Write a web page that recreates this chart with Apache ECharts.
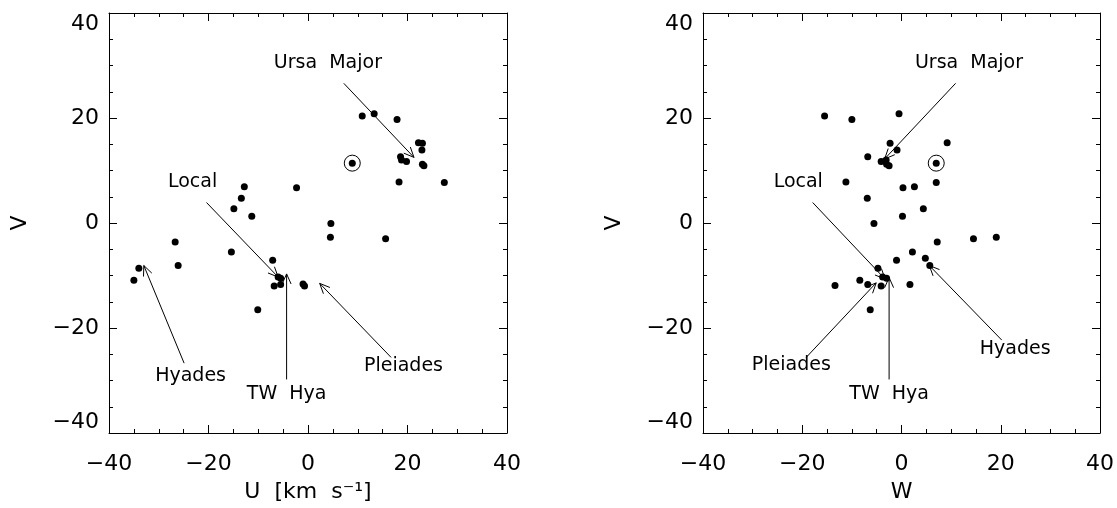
<!DOCTYPE html>
<html>
<head>
<meta charset="utf-8">
<script src="https://cdn.jsdelivr.net/npm/echarts@6/dist/echarts.min.js"></script>
<style>
  html, body { margin: 0; padding: 0; background: #fff; }
  #chart { width: 1117px; height: 508px; }
</style>
</head>
<body>
<div id="chart"></div>
<script>
// stars in the U-V plane [U, V]
var uvPoints = [
  [10.9, 20.4], [13.3, 20.8], [17.9, 19.7], [22.2, 15.3], [23.0, 15.2], [22.9, 13.9],
  [18.6, 12.6], [18.8, 12.0], [19.8, 11.7], [23.0, 11.2], [23.3, 10.9], [18.3, 7.8],
  [27.4, 7.7], [-12.8, 6.9], [-13.4, 4.7], [-14.9, 2.7], [-11.3, 1.3], [-2.3, 6.7],
  [4.6, -0.1], [4.5, -2.7], [15.6, -3.0], [-26.7, -3.6], [-26.1, -8.1], [-34.0, -8.6],
  [-35.0, -10.9], [-15.4, -5.5], [-7.1, -7.1], [-6.0, -10.3], [-5.5, -10.5], [-6.8, -12.0],
  [-5.5, -11.7], [-1.0, -11.6], [-0.7, -12.0], [-10.1, -16.5]
];
// stars in the W-V plane [W, V]
var wvPoints = [
  [-15.5, 20.4], [-10.0, 19.7], [-0.5, 20.8], [9.2, 15.3], [-2.3, 15.2], [-0.9, 13.9],
  [-6.8, 12.6], [-4.1, 11.7], [-3.1, 12.0], [-3.0, 11.2], [-2.5, 10.9], [7.0, 7.7],
  [-11.2, 7.8], [0.3, 6.7], [2.6, 6.9], [-6.9, 4.7], [4.4, 2.7], [0.2, 1.3],
  [-5.55, -0.1], [14.5, -3.0], [19.1, -2.7], [7.2, -3.6], [2.2, -5.5], [4.8, -6.7],
  [5.7, -8.1], [-1.0, -7.1], [-4.75, -8.6], [-3.8, -10.3], [-3.0, -10.5], [-8.4, -10.9],
  [-6.8, -11.7], [-4.1, -12.0], [-13.4, -11.9], [1.7, -11.7], [-6.3, -16.5]
];
// the Sun
var sunUV = [[8.9, 11.4]];
var sunWV = [[7.0, 11.4]];

// annotation arrows [x0, y0, x1, y1] (head at x1, y1)
var arrowsUV = [
  [7.2, 26.6, 21.3, 12.5],
  [-20.4, 3.9, -6.0, -10.3],
  [-24.9, -26.7, -33.0, -8.1],
  [-4.3, -29.8, -4.3, -9.7],
  [16.7, -25.6, 2.35, -11.5]
];
var arrowsWV = [
  [10.9, 26.6, -3.4, 12.2],
  [-17.9, 3.9, -3.3, -10.7],
  [-19.2, -25.6, -5.1, -11.4],
  [-2.5, -29.8, -2.5, -10.4],
  [20.2, -22.3, 5.6, -8.1]
];
var labelNames = ['Ursa  Major', 'Local', 'Hyades', 'TW  Hya', 'Pleiades'];
var labelPosUV = [[4.0, 30.5], [-23.2, 7.8], [-23.6, -29.1], [-4.3, -32.6], [19.2, -27.2]];
var labelPosWV = [[13.6, 30.5], [-20.8, 7.8], [22.9, -24.1], [-2.5, -32.6], [-22.2, -27.1]];

var axisTicks = [-40, -20, 0, 20, 40];
var FONT = 'DejaVu Sans';

function fmt(v) { return String(v).replace('-', '\u2212'); }

function valueAxis(idx, pos, showLabel, name, nameGap) {
  var vertical = pos === 'left' || pos === 'right';
  var lab = {
    show: showLabel, color: '#000', fontSize: 22, fontFamily: FONT,
    margin: vertical ? 10 : 20, formatter: fmt
  };
  if (vertical) {
    // end labels sit inside the frame, as in the original plot
    lab.verticalAlignMinLabel = 'bottom';
    lab.verticalAlignMaxLabel = 'top';
  }
  return {
    type: 'value', gridIndex: idx, position: pos,
    min: axisTicks[0], max: axisTicks[axisTicks.length - 1], interval: 20,
    name: name, nameLocation: 'middle', nameGap: nameGap,
    nameRotate: (pos === 'left' && name) ? 90 : 0,
    nameTextStyle: { color: '#000', fontSize: 22, fontFamily: FONT },
    axisLine: { show: true, onZero: false, lineStyle: { color: '#000', width: 1 } },
    axisTick: { show: true, inside: true, length: 8, lineStyle: { color: '#000' } },
    minorTick: { show: true, splitNumber: 4, length: 4, lineStyle: { color: '#000' } },
    splitLine: { show: false },
    axisLabel: lab
  };
}

function arrowItem(params, api) {
  var p0 = api.coord([api.value(0), api.value(1)]);
  var p1 = api.coord([api.value(2), api.value(3)]);
  var ang = Math.atan2(p1[1] - p0[1], p1[0] - p0[0]);
  var hl = 11, ha = 0.42;
  var a = [p1[0] - hl * Math.cos(ang - ha), p1[1] - hl * Math.sin(ang - ha)];
  var b = [p1[0] - hl * Math.cos(ang + ha), p1[1] - hl * Math.sin(ang + ha)];
  var st = { stroke: '#000', lineWidth: 1, fill: null };
  return {
    type: 'group',
    children: [
      { type: 'line', shape: { x1: p0[0], y1: p0[1], x2: p1[0], y2: p1[1] }, style: st },
      { type: 'polyline', shape: { points: [a, p1, b] }, style: st }
    ]
  };
}

function panelSeries(idx, pts, sun, arrows, labelPos) {
  var ax = idx * 2;
  return [
    {
      type: 'scatter', xAxisIndex: ax, yAxisIndex: ax, data: pts,
      symbol: 'circle', symbolSize: 7, itemStyle: { color: '#000', opacity: 1 }, silent: true
    },
    {
      type: 'scatter', xAxisIndex: ax, yAxisIndex: ax, data: sun,
      symbol: 'circle', symbolSize: 16,
      itemStyle: { color: 'rgba(0,0,0,0)', borderColor: '#000', borderWidth: 1, opacity: 1 }, silent: true
    },
    {
      type: 'scatter', xAxisIndex: ax, yAxisIndex: ax, data: sun,
      symbol: 'circle', symbolSize: 7, itemStyle: { color: '#000', opacity: 1 }, silent: true
    },
    {
      type: 'custom', xAxisIndex: ax, yAxisIndex: ax, data: arrows,
      renderItem: arrowItem, silent: true
    },
    {
      type: 'scatter', xAxisIndex: ax, yAxisIndex: ax, symbolSize: 0,
      data: labelPos.map(function (p, i) { return { name: labelNames[i], value: p }; }),
      label: {
        show: true, position: 'inside', formatter: '{b}',
        color: '#000', fontSize: 19, fontFamily: FONT
      },
      itemStyle: { opacity: 1 },
      silent: true
    }
  ];
}

var chart = echarts.init(document.getElementById('chart'));
chart.setOption({
  animation: false,
  backgroundColor: '#fff',
  grid: [
    { left: 109, top: 13, width: 398, height: 420 },
    { left: 703, top: 13, width: 398, height: 420 }
  ],
  xAxis: [
    valueAxis(0, 'bottom', true, 'U  [km  s\u207B\u00B9]', 48),
    valueAxis(0, 'top', false, '', 0),
    valueAxis(1, 'bottom', true, 'W', 48),
    valueAxis(1, 'top', false, '', 0)
  ],
  yAxis: [
    valueAxis(0, 'left', true, 'V', 78),
    valueAxis(0, 'right', false, '', 0),
    valueAxis(1, 'left', true, 'V', 78),
    valueAxis(1, 'right', false, '', 0)
  ],
  series: panelSeries(0, uvPoints, sunUV, arrowsUV, labelPosUV)
    .concat(panelSeries(1, wvPoints, sunWV, arrowsWV, labelPosWV))
});
</script>
</body>
</html>
